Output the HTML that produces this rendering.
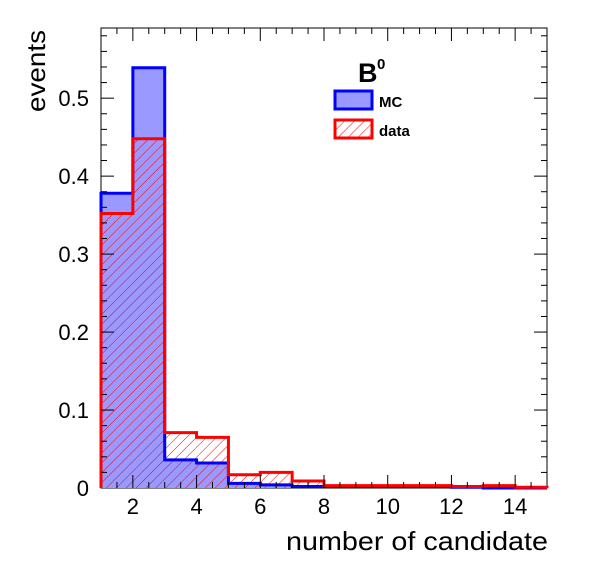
<!DOCTYPE html>
<html><head><meta charset="utf-8"><style>
body{margin:0;background:#fff}
svg text{font-family:"Liberation Sans",sans-serif}
</style></head><body>
<svg id="c" width="596" height="574" viewBox="0 0 596 574">
<defs>
<pattern id="hatch" patternUnits="userSpaceOnUse" width="7" height="7" patternTransform="rotate(45)">
<line x1="0" y1="0" x2="0" y2="7" stroke="#ff0000" stroke-width="1"/>
</pattern>
</defs>
<rect x="101" y="28" width="446" height="460" fill="none" stroke="#000" stroke-width="1"/>
<g id="marks"></g>
<g id="axes"></g>
<text x="286" y="550" font-size="26" textLength="262" lengthAdjust="spacingAndGlyphs">number of candidate</text>
<text transform="translate(45,112) rotate(-90)" text-anchor="start" font-size="26" textLength="82" lengthAdjust="spacingAndGlyphs">events</text>
<g>
<text x="358" y="82" font-size="27" font-weight="bold">B</text>
<text x="377" y="69" font-size="15" font-weight="bold">0</text>
<rect x="335" y="91" width="37" height="18" fill="#9999ff" stroke="#0000ff" stroke-width="3"/>
<text x="379" y="107" font-size="15" font-weight="bold">MC</text>
<rect x="335" y="120" width="37" height="18" fill="url(#hatch)" stroke="#ff0000" stroke-width="3"/>
<text x="379" y="136" font-size="15" font-weight="bold">data</text>
</g>
</svg>
<script>
const binEdges=[1,2,3,4,5,6,7,8,9,10,11,12,13,14,15];
const mcValues=[0.378,0.539,0.036,0.032,0.006,0.004,0.002,0.002,0.002,0.002,0.002,0.001,0,0];
const dataValues=[0.352,0.448,0.071,0.065,0.017,0.02,0.009,0.003,0.003,0.003,0.003,0.002,0.003,0.001];
const xTicks=[2,4,6,8,10,12,14];
const yTicks=[0,0.1,0.2,0.3,0.4,0.5];
const yTickLabels=["0","0.1","0.2","0.3","0.4","0.5"];
const X0=101,X1=547,Y0=488,Y1=28,xmin=1,xmax=15,ymax=0.59;
const sx=v=>X0+(v-xmin)/(xmax-xmin)*(X1-X0);
const sy=v=>Y0-v/ymax*(Y0-Y1);
const NS="http://www.w3.org/2000/svg";
const marks=document.getElementById('marks'),axes=document.getElementById('axes');
function mk(t,a,p){const e=document.createElementNS(NS,t);for(const k in a)e.setAttribute(k,a[k]);p.appendChild(e);return e;}
function stepPath(vals){let d=`M${sx(binEdges[0])},${sy(0)}`;vals.forEach((v,i)=>{d+=` L${sx(binEdges[i])},${sy(v)} L${sx(binEdges[i+1])},${sy(v)}`;});d+=` L${sx(binEdges[vals.length])},${sy(0)}`;return d;}
let e=mk('path',{d:stepPath(mcValues)+' Z',fill:'#9999ff',stroke:'none'},marks);


e=mk('path',{d:stepPath(dataValues)+' Z',fill:'url(#hatch)',stroke:'none'},marks);


e=mk('path',{d:stepPath(mcValues),fill:'none',stroke:'#0000ff','stroke-width':3},marks);


e=mk('path',{d:stepPath(dataValues),fill:'none',stroke:'#ff0000','stroke-width':3},marks);


for(let v=1;v<=15;v+=0.5){if(v===1||v===15)continue;const major=Number.isInteger(v)&&v%2===0;const L=major?13:6;
mk('line',{x1:sx(v),x2:sx(v),y1:Y0,y2:Y0-L,stroke:'#000'},axes);
mk('line',{x1:sx(v),x2:sx(v),y1:Y1,y2:Y1+L,stroke:'#000'},axes);}
xTicks.forEach(v=>{const t=mk('text',{x:sx(v),y:514,'text-anchor':'middle','font-size':22},axes);t.textContent=v;

});
for(let v=0.02;v<ymax;v+=0.02){const major=Math.abs(v*10-Math.round(v*10))<1e-6;const L=major?13:6;
mk('line',{x1:X0,x2:X0+L,y1:sy(v),y2:sy(v),stroke:'#000'},axes);
mk('line',{x1:X1,x2:X1-L,y1:sy(v),y2:sy(v),stroke:'#000'},axes);}
yTicks.forEach((v,i)=>{const t=mk('text',{x:89,y:sy(v)+8,'text-anchor':'end','font-size':22},axes);t.textContent=yTickLabels[i];

});
</script>
</body></html>
